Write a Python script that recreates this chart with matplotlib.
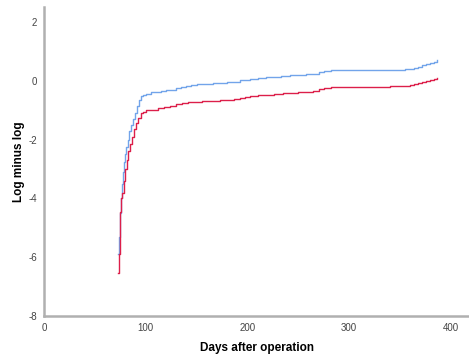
import matplotlib
matplotlib.use("Agg")
import matplotlib.pyplot as plt

plt.rcParams["font.family"] = ["Liberation Sans", "DejaVu Sans"]
plt.rcParams["axes.unicode_minus"] = False

# log minus log curves (step functions)
blue_t = [72.7, 73.5, 74.5, 75.5, 76.5, 77.5, 79, 80, 81, 82.5, 84, 85.5, 87, 89,
          91, 93, 95, 97, 100, 105, 110, 115, 120, 125, 130, 135, 140, 145, 150,
          158, 166, 173, 180, 187, 193, 198, 203, 210, 218, 225, 233, 242, 250,
          258, 265, 270, 275, 282, 288, 300, 320, 340, 355, 360, 364, 368, 372,
          376, 380, 384, 387]
blue_v = [-5.9, -5.3, -4.5, -4.0, -3.5, -3.1, -2.75, -2.5, -2.25, -2.0, -1.7, -1.5,
          -1.3, -1.1, -0.85, -0.65, -0.52, -0.47, -0.44, -0.4, -0.37, -0.35, -0.33,
          -0.3, -0.25, -0.21, -0.17, -0.13, -0.11, -0.1, -0.09, -0.08, -0.06, -0.03,
          0.01, 0.04, 0.07, 0.1, 0.12, 0.14, 0.16, 0.2, 0.21, 0.22, 0.24, 0.29,
          0.32, 0.35, 0.37, 0.38, 0.38, 0.38, 0.39, 0.41, 0.44, 0.48, 0.52, 0.57,
          0.61, 0.65, 0.69]

red_t = [72.7, 73.5, 74.2, 75, 76, 77, 78.5, 80, 81.5, 83, 84.5, 86, 88, 90, 92.5,
         95, 97, 100, 106, 112, 118, 124, 130, 136, 142, 148, 155, 163, 173, 180,
         187, 193, 198, 203, 210, 218, 226, 235, 242, 250, 258, 265, 270, 275,
         282, 290, 300, 320, 340, 355, 360, 364, 368, 372, 376, 380, 384, 387]
red_v = [-6.55, -5.9, -5.15, -4.45, -4.0, -3.8, -3.4, -3.0, -2.7, -2.4, -2.15, -1.9,
         -1.65, -1.45, -1.25, -1.1, -1.05, -1.01, -0.98, -0.94, -0.9, -0.86, -0.8,
         -0.76, -0.73, -0.71, -0.69, -0.68, -0.67, -0.65, -0.62, -0.58, -0.55,
         -0.52, -0.49, -0.47, -0.45, -0.43, -0.41, -0.39, -0.37, -0.35, -0.29,
         -0.26, -0.23, -0.21, -0.2, -0.2, -0.19, -0.17, -0.15, -0.12, -0.08,
         -0.04, 0.0, 0.04, 0.07, 0.1]

fig = plt.figure(figsize=(4.69, 3.58), dpi=100)
ax = fig.add_axes([0.094, 0.117, 0.906, 0.863])

ax.plot(blue_t, blue_v, drawstyle="steps-post", color="#72a4ea", lw=1.0)
ax.plot(red_t, red_v, drawstyle="steps-post", color="#dc1f4a", lw=1.0)

ax.set_xlim(0, 418)
ax.set_ylim(-8, 2.5)
ax.set_xticks([0, 100, 200, 300, 400])
ax.set_yticks([-8, -6, -4, -2, 0, 2])

for s in ["top", "right"]:
    ax.spines[s].set_visible(False)
for s in ["left", "bottom"]:
    ax.spines[s].set_color("#b0b0b0")
    ax.spines[s].set_linewidth(1.8)

ax.tick_params(length=0, labelsize=7, colors="#444444", pad=5)
ax.set_xlabel("Days after operation", fontsize=8.5, fontweight="bold")
ax.set_ylabel("Log minus log", fontsize=8.5, fontweight="bold")
ax.xaxis.set_label_coords(0.5, -0.085)
ax.yaxis.set_label_coords(-0.045, 0.5)

fig.savefig("out.png", dpi=100)
